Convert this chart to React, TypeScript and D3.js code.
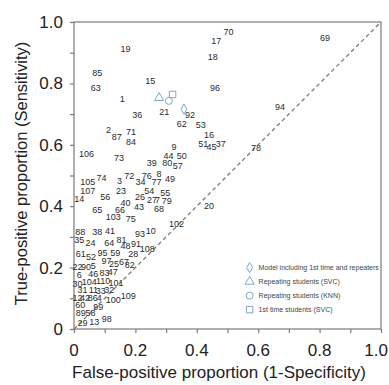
import { useEffect, useRef } from "react";
import * as d3 from "d3";

// Numbered model labels: [id, false-positive proportion, true-positive proportion]
const modelIds = [
  19, 17, 70, 18, 85, 63, 15, 96, 1, 69, 94, 36, 21, 92, 62, 53, 16, 51, 45, 37,
  2, 87, 71, 84, 9, 106, 73, 44, 50, 39, 80, 57, 76, 8, 49, 105, 74, 3, 72, 34,
  77, 107, 23, 54, 55, 14, 56, 26, 27, 7, 79, 40, 43, 68, 65, 66, 20, 78, 103, 75,
  102, 88, 38, 41, 93, 10, 35, 24, 64, 81, 48, 91, 108, 61, 52, 95, 59, 28, 97, 67,
  82, 22, 90, 5, 25, 6, 46, 83, 47, 30, 104, 110, 101, 31, 11, 33, 32, 12, 42, 86,
  4, 100, 109, 60, 99, 89, 58, 29, 13, 98,
];
const modelFpr = [
  0.168, 0.463, 0.503, 0.452, 0.076, 0.071, 0.248, 0.459, 0.157, 0.818, 0.671, 0.206, 0.294, 0.378, 0.351, 0.413, 0.44, 0.421, 0.448, 0.478,
  0.112, 0.139, 0.186, 0.186, 0.326, 0.041, 0.147, 0.308, 0.351, 0.253, 0.304, 0.338, 0.237, 0.277, 0.313, 0.045, 0.09, 0.148, 0.18, 0.217,
  0.269, 0.045, 0.153, 0.245, 0.297, 0.017, 0.102, 0.215, 0.254, 0.272, 0.302, 0.168, 0.212, 0.277, 0.076, 0.15, 0.44, 0.593, 0.128, 0.185,
  0.334, 0.02, 0.076, 0.117, 0.215, 0.25, 0.017, 0.054, 0.115, 0.155, 0.168, 0.202, 0.239, 0.022, 0.055, 0.093, 0.134, 0.193, 0.106, 0.163,
  0.182, 0.011, 0.039, 0.063, 0.13, 0.017, 0.063, 0.099, 0.126, 0.011, 0.05, 0.095, 0.137, 0.028, 0.063, 0.087, 0.115, 0.011, 0.036, 0.061,
  0.082, 0.128, 0.177, 0.02, 0.079, 0.022, 0.054, 0.028, 0.066, 0.107,
];
const modelTpr = [
  0.911, 0.939, 0.968, 0.885, 0.833, 0.786, 0.808, 0.787, 0.751, 0.947, 0.724, 0.699, 0.706, 0.696, 0.667, 0.665, 0.632, 0.602, 0.594, 0.602,
  0.648, 0.627, 0.643, 0.61, 0.594, 0.57, 0.558, 0.564, 0.564, 0.54, 0.54, 0.532, 0.499, 0.505, 0.489, 0.48, 0.491, 0.482, 0.498, 0.478,
  0.478, 0.451, 0.451, 0.451, 0.442, 0.423, 0.429, 0.429, 0.42, 0.42, 0.417, 0.412, 0.398, 0.391, 0.388, 0.388, 0.402, 0.589, 0.366, 0.358,
  0.342, 0.317, 0.317, 0.32, 0.309, 0.32, 0.29, 0.282, 0.282, 0.29, 0.27, 0.276, 0.261, 0.244, 0.236, 0.249, 0.249, 0.244, 0.222, 0.219,
  0.21, 0.201, 0.203, 0.205, 0.212, 0.176, 0.181, 0.183, 0.187, 0.147, 0.154, 0.156, 0.151, 0.127, 0.127, 0.123, 0.129, 0.1, 0.1, 0.1,
  0.103, 0.094, 0.107, 0.078, 0.073, 0.053, 0.051, 0.021, 0.024, 0.033,
];

// Best models, drawn as open symbols
const bestNames = [
  "Model including 1st time and repeaters",
  "Repeating students (SVC)",
  "Repeating students (KNN)",
  "1st time students (SVC)",
];
const bestSymbols = ["diamond", "triangle", "circle", "square"];
const bestFpr = [0.358, 0.277, 0.309, 0.321];
const bestTpr = [0.716, 0.753, 0.743, 0.764];

const minorTicks = [0, 0.1, 0.2, 0.3, 0.4, 0.5, 0.6, 0.7, 0.8, 0.9, 1.0];
const xTickLabels = ["0", "0.2", "0.4", "0.6", "0.8", "1.0"];
const yTickLabels = ["0", "0.2", "0.4", "0.6", "0.8", "1.0"];

const W = 389;
const H = 385;
const FONT = "'Liberation Sans', Arial, sans-serif";
const AXIS = "#7a7a7a";
const MARK = "#7fa6cc";

export default function App() {
  const svgRef = useRef<SVGSVGElement>(null);

  useEffect(() => {
    if (!svgRef.current) return;
    const svg = d3.select(svgRef.current);
    svg.selectAll("*").remove();

    const m = { left: 74, right: 8, top: 22, bottom: 56 };
    const iW = W - m.left - m.right;
    const iH = H - m.top - m.bottom;
    const x = d3.scaleLinear().domain([0, 1]).range([0, iW]);
    const y = d3.scaleLinear().domain([0, 1]).range([iH, 0]);

    const g = svg.append("g").attr("transform", `translate(${m.left},${m.top})`);

    // frame
    g.append("rect").attr("width", iW).attr("height", iH)
      .attr("fill", "none").attr("stroke", AXIS).attr("stroke-width", 1.2);

    // diagonal (chance line)
    g.append("line")
      .attr("x1", x(0)).attr("y1", y(0)).attr("x2", x(1)).attr("y2", y(1))
      .attr("stroke", AXIS).attr("stroke-width", 1.3).attr("stroke-dasharray", "4,3");

    // ticks
    const xAx = g.append("g").attr("transform", `translate(0,${iH})`)
      .call(d3.axisBottom(x).tickValues(minorTicks).tickSize(4).tickFormat(() => ""));
    const yAx = g.append("g")
      .call(d3.axisLeft(y).tickValues(minorTicks).tickSize(4).tickFormat(() => ""));
    [xAx, yAx].forEach((a) => {
      a.select(".domain").remove();
      a.selectAll("line").attr("stroke", AXIS).attr("stroke-width", 1.2);
    });

    xTickLabels.forEach((t) => {
      const last = +t === 1;
      g.append("text").attr("x", last ? iW + 7 : x(+t)).attr("y", iH + 27)
        .attr("text-anchor", last ? "end" : "middle").attr("font-family", FONT).attr("font-size", 17)
        .attr("fill", "#222").text(t);
    });
    yTickLabels.forEach((t) => {
      g.append("text").attr("x", -11).attr("y", y(+t) + 6)
        .attr("text-anchor", "end").attr("font-family", FONT).attr("font-size", 17)
        .attr("fill", "#222").text(t);
    });

    // axis titles
    svg.append("text").attr("x", 219).attr("y", H - 7)
      .attr("text-anchor", "middle").attr("font-family", FONT).attr("font-size", 17)
      .attr("fill", "#222").text("False-positive proportion (1-Specificity)");
    svg.append("text")
      .attr("transform", `translate(27,${m.top + iH / 2 - 2}) rotate(-90)`)
      .attr("text-anchor", "middle").attr("font-family", FONT).attr("font-size", 16.5)
      .attr("fill", "#222").text("True-positive proportion (Sensitivity)");

    // numbered labels
    g.selectAll("text.pt").data(modelIds).enter().append("text")
      .attr("class", "pt")
      .attr("x", (_, i) => x(modelFpr[i]))
      .attr("y", (_, i) => y(modelTpr[i]))
      .attr("dy", "0.35em")
      .attr("text-anchor", "middle").attr("font-family", FONT).attr("font-size", 9)
      .attr("fill", "#2a2a2a").text((d) => String(d));

    const symType: Record<string, d3.SymbolType> = {
      diamond: d3.symbolDiamond,
      triangle: d3.symbolTriangle,
      circle: d3.symbolCircle,
      square: d3.symbolSquare,
    };
    const symSize: Record<string, number> = { diamond: 30, triangle: 36, circle: 38, square: 42 };

    bestNames.forEach((_, i) => {
      const s = bestSymbols[i];
      g.append("path")
        .attr("d", d3.symbol().type(symType[s]).size(symSize[s])())
        .attr("transform", `translate(${x(bestFpr[i])},${y(bestTpr[i])})`)
        .attr("fill", "none").attr("stroke", MARK).attr("stroke-width", 1);
    });

    // legend
    const lg = g.append("g").attr("transform", `translate(${x(0.572)},${y(0.2)})`);
    bestNames.forEach((name, i) => {
      const s = bestSymbols[i];
      const row = lg.append("g").attr("transform", `translate(0,${i * 14})`);
      row.append("path")
        .attr("d", d3.symbol().type(symType[s]).size(symSize[s])())
        .attr("fill", "none").attr("stroke", MARK).attr("stroke-width", 1);
      row.append("text").attr("x", 9).attr("y", 2.5)
        .attr("font-family", FONT).attr("font-size", 7).attr("fill", "#444").text(name);
    });
  }, []);

  return (
    <div style={{ position: "absolute", left: 0, top: 0, background: "#fff" }}>
      <svg ref={svgRef} width={W} height={H} />
    </div>
  );
}
